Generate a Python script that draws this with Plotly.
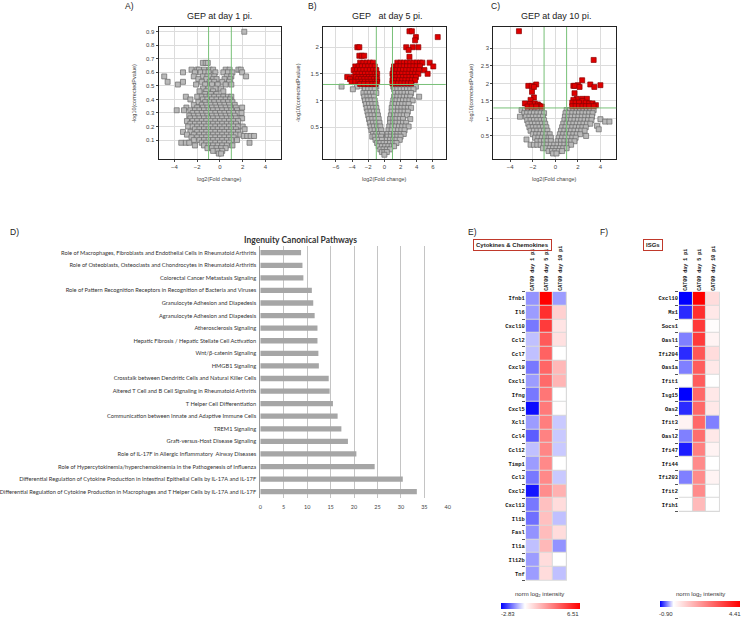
import plotly.graph_objects as go

W, H = 747, 618

# ---------------- Panel A: GEP at day 1 pi. (log2 FC, -log10 corrected p) ----------------
A_grey_rows = [
    (0.90, [2.14]),
    (0.67, [-1.5, -1.25, -1.07]),
    (0.62, [-2.5, -2.0, -1.85, -1.4, -0.9, -0.6, 0.5, 0.85, 1.62, 1.83]),
    (0.60, [-3.25, -2.2, -1.7, -1.3, -1.0, -0.4, 0.3, 0.7, 1.1, 1.95]),
    (0.57, [-4.9, -2.3, -1.5, -1.1, -0.8, -0.5, 0.6, 1.0, 2.3]),
    (0.55, [-1.9, -1.2, -0.6, -0.3, 0.4, 0.9]),
    (0.53, [-4.6, -3.25, -1.6, -0.9, -0.5, 0.2, 0.8]),
    (0.51, [-3.7, -2.1, -1.3, -0.7, -0.2, 0.5, 1.0]),
    (0.48, [-1.5, -1.0, -0.4, 0.1]),
    (0.46, [-1.8, -1.2, -0.6, 0.3]),
    (0.44, [-1.3, -0.8, -0.3]),
    (0.42, [-3.0, -2.0, -1.6, -1.2, -0.9, -0.5, -0.1, 0.3, 0.7, 1.0]),
    (0.40, [-2.6, -1.5, -1.1, -0.7, -0.3, 0.1, 0.5, 0.9]),
    (0.38, [-1.9, -1.3, -0.9, -0.5, -0.1, 0.3, 0.7, 1.1]),
    (0.36, [-2.3, -1.6, -1.2, -0.8, -0.4, 0.0, 0.4, 0.8, 1.3]),
    (0.34, [-2.95, -2.0, -1.5, -1.1, -0.7, -0.3, 0.1, 0.5, 0.9, 1.4, 1.95]),
    (0.32, [-3.8, -3.16, -2.6, -2.2, -1.8, -1.4, -1.0, -0.6, -0.2, 0.2, 0.6, 1.0, 1.5]),
    (0.30, [-2.4, -2.0, -1.6, -1.2, -0.8, -0.4, 0.0, 0.4, 0.8, 1.2, 1.6, 1.9]),
    (0.28, [-2.7, -2.3, -1.9, -1.5, -1.1, -0.7, -0.3, 0.1, 0.5, 0.9, 1.3]),
    (0.26, [-2.6, -2.2, -1.8, -1.4, -1.0, -0.6, -0.2, 0.2, 0.6, 1.0, 1.4, 1.95]),
    (0.24, [-2.9, -2.4, -2.0, -1.6, -1.2, -0.8, -0.4, 0.0, 0.4, 0.8, 1.2, 1.6]),
    (0.22, [-2.6, -2.2, -1.8, -1.4, -1.0, -0.6, -0.2, 0.2, 0.6, 1.0, 1.4]),
    (0.20, [-2.8, -2.4, -2.0, -1.6, -1.2, -0.8, -0.4, 0.0, 0.4, 0.8, 1.2, 1.6, 2.0]),
    (0.18, [-2.2, -1.8, -1.4, -1.0, -0.6, -0.2, 0.2, 0.6, 1.0, 1.4, 2.17]),
    (0.16, [-3.25, -2.6, -2.0, -1.6, -1.2, -0.8, -0.4, 0.0, 0.4, 0.8, 1.2, 1.6]),
    (0.14, [-2.9, -2.3, -1.8, -1.4, -1.0, -0.6, -0.2, 0.2, 0.6, 1.0, 1.4, 1.8]),
    (0.13, [2.1, 2.4, 2.7, 3.0]),
    (0.12, [-2.5, -2.0, -1.6, -1.2, -0.8, -0.4, 0.0, 0.4, 0.8, 1.2]),
    (0.10, [-2.3, -1.8, -1.4, -1.0, -0.6, -0.2, 0.2, 0.6, 1.0, 1.5]),
    (0.08, [-3.4, -3.0, -2.7, -1.6, -1.2, -0.8, -0.4, 0.0, 0.4, 0.8, 2.6]),
    (0.06, [-2.2, -1.4, -1.0, -0.6, -0.2, 0.2, 0.6, 1.1]),
    (0.04, [-1.1, -0.7, -0.3, 0.1, 0.5]),
    (0.02, [-0.6, -0.2, 0.2]),
    (0.00, [-0.1, 0.1]),
]

# ---------------- Panel B: GEP at day 5 pi. ----------------
B_grey_rows = [
    (1.26, [-5.3, -3.4, -2.6, -2.2, -1.8, -1.4, -1.0, 1.1, 1.5, 1.9, 2.3, 2.7, 3.1, 3.5, 3.9]),
    (1.21, [-3.9, -2.4, -2.0, -1.6, -1.2, 1.2, 1.6, 2.0, 2.4, 2.8, 3.2, 3.6]),
    (1.14, [-2.6, -2.2, -1.8, -1.4, -1.0, 1.3, 1.7, 2.1, 2.5, 2.9, 3.3]),
    (1.07, [-2.5, -2.1, -1.7, -1.3, 1.2, 1.6, 2.0, 2.4, 2.8, 3.2, 4.3]),
    (1.00, [-2.4, -2.0, -1.6, -1.2, 1.1, 1.5, 1.9, 2.3, 2.7, 3.1, 3.5]),
    (0.93, [-2.3, -1.9, -1.5, -1.1, 1.0, 1.4, 1.8, 2.2, 2.6, 3.0]),
    (0.86, [-2.2, -1.8, -1.4, -1.0, 0.9, 1.3, 1.7, 2.1, 2.5, 2.9, 3.3]),
    (0.79, [-2.1, -1.7, -1.3, -0.9, 0.9, 1.3, 1.7, 2.1, 2.5, 2.9]),
    (0.72, [-2.0, -1.6, -1.2, -0.8, 0.8, 1.2, 1.6, 2.0, 2.4, 2.8]),
    (0.65, [-1.9, -1.5, -1.1, -0.7, 0.7, 1.1, 1.5, 1.9, 2.3, 3.2]),
    (0.58, [-1.8, -1.4, -1.0, -0.6, 0.7, 1.1, 1.5, 1.9, 2.3, 2.7]),
    (0.51, [-1.7, -1.3, -0.9, -0.5, 0.6, 1.0, 1.4, 1.8, 2.2, 2.6, 3.0]),
    (0.44, [-1.6, -1.2, -0.8, -0.4, 0.5, 0.9, 1.3, 1.7, 2.1, 2.5]),
    (0.37, [-1.4, -1.0, -0.6, -0.3, 0.4, 0.8, 1.2, 1.6, 2.0, 2.4]),
    (0.32, [-1.5, -1.2, -0.8, -0.4, 0.4, 0.8, 1.2, 1.6, 2.0]),
    (0.26, [-1.1, -0.7, -0.3, 0.3, 0.7, 1.1, 1.5, 1.9]),
    (0.20, [-0.9, -0.5, -0.1, 0.3, 0.7, 1.1, 1.5]),
    (0.14, [-0.7, -0.3, 0.1, 0.5, 0.9, 1.2]),
    (0.08, [-0.5, -0.1, 0.3, 0.7]),
    (0.03, [-0.3, 0.0, 0.3]),
    (-0.02, [0.0]),
]
B_red_rows = [
    (2.30, [3.1, 3.4]),
    (2.19, [3.9, 6.6]),
    (2.13, [3.8]),
    (2.00, [-3.35, -3.1, 2.7, 3.5, 4.2]),
    (1.95, [3.0]),
    (1.84, [-3.1, -2.8, -2.5]),
    (1.82, [3.1]),
    (1.71, [-3.0, -2.6, -2.2, -1.8, -1.4, 1.6, 2.0, 2.4, 2.8, 3.2, 3.6, 4.0, 4.4, 4.7, 5.6]),
    (1.64, [-3.6, -3.2, -2.8, -2.4, -2.0, -1.6, -1.2, 1.2, 1.6, 2.0, 2.4, 2.8, 3.2, 3.6, 4.0, 4.4, 6.05]),
    (1.57, [-3.8, -3.4, -3.0, -2.6, -2.2, -1.8, -1.4, -1.0, 1.1, 1.5, 1.9, 2.3, 2.7, 3.1, 3.5, 3.9, 4.3, 4.95]),
    (1.50, [-3.6, -3.2, -2.8, -2.4, -2.0, -1.6, -1.2, -0.9, 1.0, 1.4, 1.8, 2.2, 2.6, 3.0, 3.4, 3.8, 4.2, 5.35]),
    (1.44, [-4.6, -3.9, -3.5, -3.1, -2.7, -2.3, -1.9, -1.5, -1.1, 1.1, 1.5, 1.9, 2.3, 2.7, 3.1, 3.5, 3.9]),
    (1.40, [-4.25, -3.3, -2.9, -2.5, -2.1, -1.7, -1.3, -0.9]),
    (1.38, [1.0, 1.4, 1.8, 2.2, 2.6, 3.0, 3.4, 3.8]),
    (1.35, [-4.05, -3.6, -3.2, -2.8, -2.4, -2.0, -1.6, -1.2, -0.9]),
    (1.32, [1.0, 1.3, 1.7, 2.1, 2.5, 2.9, 3.3]),
    (1.31, [-3.0, -2.5, -2.0, -1.5, -1.1]),
]

# ---------------- Panel C: GEP at day 10 pi. ----------------
C_grey_rows = [
    (1.24, [-3.0, -2.7, -2.4, -2.1, -1.8, -1.5, -1.2, 1.0, 1.3, 1.6, 1.9, 2.2, 2.5, 2.8, 3.1, 3.4]),
    (1.15, [-2.76, -2.5, -2.2, -1.9, -1.6, -1.3, -1.0, 0.9, 1.2, 1.5, 1.8, 2.1, 2.4, 2.7, 3.0, 3.3]),
    (1.05, [-3.14, -2.6, -2.3, -2.0, -1.7, -1.4, -1.1, 0.85, 1.15, 1.45, 1.75, 2.05, 2.35, 2.65, 2.95, 3.25]),
    (0.98, [4.0]),
    (0.95, [-2.5, -2.2, -1.9, -1.6, -1.3, -1.0, 0.8, 1.1, 1.4, 1.7, 2.0, 2.3, 2.6, 2.9, 3.2]),
    (0.91, [4.42, 4.8]),
    (0.85, [-2.4, -2.1, -1.8, -1.5, -1.2, -0.9, 0.7, 1.0, 1.3, 1.6, 1.9, 2.2, 2.5, 2.8, 3.1]),
    (0.79, [3.7]),
    (0.75, [-2.3, -2.0, -1.7, -1.4, -1.1, -0.8, 0.6, 0.9, 1.2, 1.5, 1.8, 2.1, 2.4, 2.7]),
    (0.69, [3.85]),
    (0.65, [-2.2, -1.9, -1.6, -1.3, -1.0, -0.7, 0.5, 0.8, 1.1, 1.4, 1.7, 2.0, 2.3, 2.6]),
    (0.55, [-2.0, -1.7, -1.4, -1.1, -0.8, -0.5, 0.4, 0.7, 1.0, 1.3, 1.6, 1.9, 2.2]),
    (0.50, [2.73]),
    (0.45, [-1.8, -1.5, -1.2, -0.9, -0.6, -0.4, 0.3, 0.6, 0.9, 1.2, 1.5, 1.8]),
    (0.40, [-2.56]),
    (0.35, [-1.6, -1.3, -1.0, -0.7, -0.4, 0.2, 0.5, 0.8, 1.1, 1.4, 1.7]),
    (0.25, [-2.2, -1.9, -1.6, -1.3, -1.0, -0.7, -0.4, -0.1, 0.2, 0.5, 0.8, 1.1, 1.4]),
    (0.15, [-1.1, -0.8, -0.5, -0.2, 0.1, 0.4, 0.7, 1.0]),
    (0.07, [-0.6, -0.3, 0.0, 0.3, 0.6]),
    (0.00, [-0.2, 0.1]),
]
C_red_rows = [
    (3.49, [-3.23]),
    (2.67, [3.4]),
    (2.09, [2.38]),
    (1.97, [-1.7, 3.1]),
    (1.95, [2.0, 4.0]),
    (1.93, [-2.4, -2.1, 1.6, 1.72]),
    (1.90, [-1.9, 2.15, 3.46]),
    (1.76, [-2.07]),
    (1.72, [1.7]),
    (1.60, [-1.9]),
    (1.56, [1.9, 2.38, 2.8]),
    (1.53, [-2.2, 1.6]),
    (1.50, [2.4]),
    (1.45, [1.5, 1.8, 2.1, 2.7]),
    (1.43, [-2.7, -1.83, 3.0, 3.3]),
    (1.41, [-2.27]),
    (1.40, [-1.55]),
    (1.38, [3.6]),
    (1.36, [-1.4]),
    (1.35, [1.5, 1.8, 2.1, 2.4, 2.7, 3.0, 3.4]),
    (1.34, [-2.47, -2.1, -1.7, -1.2]),
]

# ---------------- Panel D: Ingenuity Canonical Pathways ----------------
pathways = [
    "Role of Macrophages, Fibroblasts and Endothelial Cells in Rheumatoid Arthritis",
    "Role of Osteoblasts, Osteoclasts and Chondrocytes in Rheumatoid Arthritis",
    "Colorectal Cancer Metastasis Signaling",
    "Role of Pattern Recognition Receptors in Recognition of Bacteria and Viruses",
    "Granulocyte Adhesion and Diapedesis",
    "Agranulocyte Adhesion and Diapedesis",
    "Atherosclerosis Signaling",
    "Hepatic Fibrosis / Hepatic Stellate Cell Activation",
    "Wnt/β-catenin Signaling",
    "HMGB1 Signaling",
    "Crosstalk between Dendritic Cells and Natural Killer Cells",
    "Altered T Cell and B Cell Signaling in Rheumatoid Arthritis",
    "T Helper Cell Differentiation",
    "Communication between Innate and Adaptive Immune Cells",
    "TREM1 Signaling",
    "Graft-versus-Host Disease Signaling",
    "Role of IL-17F in Allergic Inflammatory  Airway Diseases",
    "Role of Hypercytokinemia/hyperchemokinemia in the Pathogenesis of Influenza",
    "Differential Regulation of Cytokine Production in Intestinal Epithelial Cells by IL-17A and IL-17F",
    "Differential Regulation of Cytokine Production in Macrophages and T Helper Cells by IL-17A and IL-17F",
]
pathway_values = [8.7, 9.0, 9.2, 11.0, 11.3, 11.6, 12.2, 12.2, 12.4, 12.5,
                  14.6, 14.8, 15.5, 16.5, 17.3, 18.7, 20.5, 24.4, 30.4, 33.4]
D_ticks = [0, 5, 10, 15, 20, 25, 30, 35, 40]

# ---------------- Panel E: Cytokines & Chemokines heatmap ----------------
samples = ["CAT09 day 1 pi", "CAT09 day 5 pi", "CAT09 day 10 pi"]
E_genes = ["Ifnb1", "Il6", "Cxcl10", "Ccl2", "Ccl7", "Cxcl9", "Cxcl1", "Ifng", "Cxcl5", "Xcl1",
           "Ccl4", "Ccl12", "Timp1", "Ccl3", "Cxcl2", "Cxcl13", "Il1b", "Fasl", "Il1a", "Il12b", "Tnf"]
E_day1 = [-1.2, -1.1, -1.5, -0.7, -0.7, -1.5, -1.1, -1.5, -2.7, -1.1,
          -1.8, -0.7, -1.1, -1.5, -2.6, -1.5, -1.6, -1.2, -0.7, -1.1, -1.1]
E_day5 = [6.51, 5.3, 5.0, 4.2, 4.0, 3.9, 3.8, 3.5, 3.4, 3.3,
          3.2, 3.1, 3.0, 3.0, 2.9, 1.6, 1.6, 1.7, 1.8, 0.9, 0.9]
E_day10 = [-1.1, 1.2, 0.7, 0.8, 0.0, 1.8, 1.9, 0.0, 0.05, -0.6,
           -0.6, -0.6, 0.0, -0.6, 2.0, 0.9, -0.7, 0.9, -1.2, 0.0, -0.7]
E_min, E_max = -2.83, 6.51

# ---------------- Panel F: ISGs heatmap ----------------
F_genes = ["Cxcl10", "Mx1", "Socs1", "Oasl1", "Ifi204", "Oas1a", "Ifit1", "Isg15", "Oas2", "Ifit3",
           "Oasl2", "Ifi47", "Ifi44", "Ifi203", "Ifit2", "Ifih1"]
F_day1 = [-0.9, -0.75, 0.0, -0.45, -0.75, -0.45, 0.0, -0.9, -0.75, 0.2,
          -0.45, -0.8, 0.0, -0.45, 0.0, 0.0]
F_day5 = [4.41, 3.6, 3.4, 3.4, 2.9, 2.8, 2.8, 2.6, 2.6, 2.6,
          2.5, 2.2, 2.0, 2.0, 2.0, 1.2]
F_day10 = [0.6, 0.4, 0.05, 0.2, 0.6, 0.4, 0.0, 0.4, 0.4, -0.45,
           0.4, 0.2, 0.0, 0.2, 0.0, 0.0]
F_min, F_max = -0.90, 4.41


def flatten(rows):
    xs, ys = [], []
    for yv, row in rows:
        for xv in row:
            xs.append(xv)
            ys.append(yv)
    return xs, ys


def px_x(p):
    return p / W


def px_y(p):
    return 1 - p / H


GREY = dict(symbol="square", size=5, color="#b9b9b9", line=dict(color="#6a6a6a", width=0.7))
RED = dict(symbol="square", size=5, color="#e00000", line=dict(color="#8a0000", width=0.7))

fig = go.Figure()

ax, ay = flatten(A_grey_rows)
fig.add_trace(go.Scatter(x=ax, y=ay, mode="markers", marker=GREY, xaxis="x", yaxis="y", hoverinfo="skip"))
bx, by = flatten(B_grey_rows)
fig.add_trace(go.Scatter(x=bx, y=by, mode="markers", marker=GREY, xaxis="x2", yaxis="y2", hoverinfo="skip"))
bx, by = flatten(B_red_rows)
fig.add_trace(go.Scatter(x=bx, y=by, mode="markers", marker=RED, xaxis="x2", yaxis="y2", hoverinfo="skip"))
cx, cy = flatten(C_grey_rows)
fig.add_trace(go.Scatter(x=cx, y=cy, mode="markers", marker=GREY, xaxis="x3", yaxis="y3", hoverinfo="skip"))
cx, cy = flatten(C_red_rows)
fig.add_trace(go.Scatter(x=cx, y=cy, mode="markers", marker=RED, xaxis="x3", yaxis="y3", hoverinfo="skip"))

fig.add_trace(go.Bar(x=pathway_values, y=pathways, orientation="h", width=0.42,
                     marker=dict(color="#a6a6a6", line=dict(width=0)),
                     xaxis="x4", yaxis="y4", hoverinfo="skip"))

E_z = [[a, b, c] for a, b, c in zip(E_day1, E_day5, E_day10)]
F_z = [[a, b, c] for a, b, c in zip(F_day1, F_day5, F_day10)]
E_mid = -E_min / (E_max - E_min)
F_mid = -F_min / (F_max - F_min)

fig.add_trace(go.Heatmap(
    z=E_z, x=samples, y=E_genes, zmin=E_min, zmax=E_max,
    colorscale=[[0, "#0000ff"], [E_mid, "#ffffff"], [1, "#ff0000"]],
    xgap=1, ygap=1, xaxis="x5", yaxis="y5", hoverinfo="skip",
    colorbar=dict(orientation="h", x=px_x(542.5), xanchor="center", y=px_y(605.5), yanchor="middle",
                  len=79, lenmode="pixels", thickness=6, showticklabels=False, ticks="",
                  outlinewidth=0, xpad=0, ypad=0)))
fig.add_trace(go.Heatmap(
    z=F_z, x=samples, y=F_genes, zmin=F_min, zmax=F_max,
    colorscale=[[0, "#0000ff"], [F_mid, "#ffffff"], [1, "#ff0000"]],
    xgap=1, ygap=1, xaxis="x6", yaxis="y6", hoverinfo="skip",
    colorbar=dict(orientation="h", x=px_x(704), xanchor="center", y=px_y(604), yanchor="middle",
                  len=80, lenmode="pixels", thickness=6, showticklabels=False, ticks="",
                  outlinewidth=0, xpad=0, ypad=0)))

TICKF = dict(family="Liberation Sans", size=6, color="#444")


def volcano_axes(xd, yd, xr, yr, yticks):
    xa = dict(domain=xd, range=xr, dtick=2, tick0=0, showline=True, linecolor="#222", linewidth=1,
              mirror=True, ticks="outside", ticklen=2, tickcolor="#444", tickfont=TICKF,
              showgrid=True, gridcolor="#dcdcdc", gridwidth=1, zeroline=False)
    ya = dict(domain=yd, range=yr, tickvals=yticks, showline=True, linecolor="#222", linewidth=1,
              mirror=True, ticks="outside", ticklen=2, tickcolor="#444", tickfont=TICKF,
              showgrid=True, gridcolor="#dcdcdc", gridwidth=1, zeroline=False)
    return xa, ya


top_dom = [px_y(159), px_y(27)]
xa1, ya1 = volcano_axes([px_x(157), px_x(281)], top_dom, [-5.4, 5.4], [-0.04, 0.935],
                        [0.1, 0.2, 0.3, 0.4, 0.5, 0.6, 0.7, 0.8, 0.9])
xa2, ya2 = volcano_axes([px_x(323), px_x(447)], top_dom, [-7.6, 7.6], [-0.1, 2.38], [0.5, 1, 1.5, 2])
xa3, ya3 = volcano_axes([px_x(495), px_x(619)], top_dom, [-5.5, 5.4], [-0.157, 3.61],
                        [0.5, 1, 1.5, 2, 2.5, 3])
ya2.update(anchor="x2")
xa2.update(anchor="y2")
ya3.update(anchor="x3")
xa3.update(anchor="y3")

MONO_B = dict(family="Liberation Mono", size=5.4, color="#111")

fig.update_layout(
    width=W, height=H, margin=dict(l=0, r=0, t=0, b=0),
    paper_bgcolor="white", plot_bgcolor="white", showlegend=False,
    xaxis=xa1, yaxis=ya1, xaxis2=xa2, yaxis2=ya2, xaxis3=xa3, yaxis3=ya3,
    xaxis4=dict(domain=[px_x(259.7), px_x(449)], anchor="y4", range=[0, 40], tickvals=D_ticks,
                showgrid=True, gridcolor="#c4c4c4", gridwidth=1, zeroline=False, showline=False,
                ticks="", tickfont=dict(family="Lato", size=5.5, color="#444"), ticklabelstandoff=4),
    yaxis4=dict(domain=[px_y(498), px_y(246.4)], anchor="x4", autorange="reversed",
                showline=True, linecolor="#9a9a9a", linewidth=1, ticks="", showgrid=False,
                tickfont=dict(family="Lato", size=5.7, color="#333"), ticklabelstandoff=2),
    xaxis5=dict(domain=[px_x(527.7), px_x(569.3)], anchor="y5", side="top", tickangle=-90,
                ticks="", showgrid=False, zeroline=False,
                tickfont=dict(family="Liberation Mono", size=5.0, color="#111")),
    yaxis5=dict(domain=[px_y(580.7), px_y(291.7)], anchor="x5", autorange="reversed",
                ticks="outside", tickson="boundaries", ticklen=3, tickcolor="#555",
                showgrid=False, zeroline=False, tickfont=MONO_B),
    xaxis6=dict(domain=[px_x(682.3), px_x(723.7)], anchor="y6", side="top", tickangle=-90,
                ticks="", showgrid=False, zeroline=False,
                tickfont=dict(family="Liberation Mono", size=5.0, color="#111")),
    yaxis6=dict(domain=[px_y(511.9), px_y(291.7)], anchor="x6", autorange="reversed",
                ticks="outside", tickson="boundaries", ticklen=3, tickcolor="#555",
                showgrid=False, zeroline=False, tickfont=MONO_B),
)

# bold heatmap labels
fig.update_layout(
    xaxis5_tickvals=samples, xaxis5_ticktext=["<b>%s</b>" % s for s in samples],
    yaxis5_tickvals=E_genes, yaxis5_ticktext=["<b>%s</b>" % g for g in E_genes],
    xaxis6_tickvals=samples, xaxis6_ticktext=["<b>%s</b>" % s for s in samples],
    yaxis6_tickvals=F_genes, yaxis6_ticktext=["<b>%s</b>" % g for g in F_genes],
)

GREEN = dict(color="#78c078", width=1)
shapes = []
# light grey cell separators behind the heatmaps
for xr_, yr_ in (("x5 domain", "y5 domain"), ("x6 domain", "y6 domain")):
    shapes.append(dict(type="rect", xref=xr_, yref=yr_, x0=0, x1=1, y0=0, y1=1,
                       fillcolor="#d9d9d9", line=dict(width=0), layer="below"))
for xr_, yr_ in (("x", "y domain"), ("x2", "y2 domain"), ("x3", "y3 domain")):
    for v in (-1, 1):
        shapes.append(dict(type="line", xref=xr_, yref=yr_, x0=v, x1=v, y0=0, y1=1, line=GREEN, layer="above"))
for xr_, yr_ in (("x2 domain", "y2"), ("x3 domain", "y3")):
    shapes.append(dict(type="line", xref=xr_, yref=yr_, x0=0, x1=1, y0=1.3, y1=1.3, line=GREEN, layer="above"))
fig.update_layout(shapes=shapes)

ann = []


def add_text(x, y, text, size, family="Liberation Sans", color="#222", angle=0, **kw):
    d = dict(x=px_x(x), y=px_y(y), xref="paper", yref="paper", text=text, showarrow=False,
             font=dict(family=family, size=size, color=color), textangle=angle,
             xanchor="center", yanchor="middle")
    d.update(kw)
    ann.append(d)


add_text(128, 6, "A)", 8.5)
add_text(312, 6, "B)", 8.5)
add_text(497, 6, "C)", 8.5)
add_text(219, 16, "GEP at day 1 pi.", 9)
add_text(388, 16, "GEP\u00a0\u00a0 at day 5 pi.", 9)
add_text(558, 16, "GEP at day 10 pi.", 9)
for cxp in (219, 385, 557):
    add_text(cxp, 179, "log2(Fold change)", 5.5, color="#444")
for cxp in (132, 298, 472):
    add_text(cxp, 93, "-log10(correctedPvalue)", 5.5, color="#444", angle=-90)

add_text(12, 232, "D)", 8.5)
add_text(300, 240, "<b>Ingenuity Canonical Pathways</b>", 8.5, family="Lato", color="#333")
add_text(474, 232, "E)", 8.5)
add_text(607, 232, "F)", 8.5)
add_text(514, 245, "<b>Cytokines &amp; Chemokines</b>", 6, family="Liberation Sans",
         bordercolor="#c0392b", borderwidth=1, borderpad=2)
add_text(656, 245, "<b>ISGs</b>", 6, family="Liberation Sans",
         bordercolor="#c0392b", borderwidth=1, borderpad=2)

add_text(542, 594, "norm log<sub>2</sub> intensity", 6, color="#333")
add_text(510, 614, "-2.83", 6, color="#333")
add_text(575, 614, "6.51", 6, color="#333")
add_text(704, 594, "norm log<sub>2</sub> intensity", 6, color="#333")
add_text(669, 614, "-0.90", 6, color="#333")
add_text(739, 614, "4.41", 6, color="#333")

fig.update_layout(annotations=ann)
fig.write_html("out.html", config={"displayModeBar": False},
               post_script="document.body.style.margin='0';document.body.style.overflow='hidden';")
